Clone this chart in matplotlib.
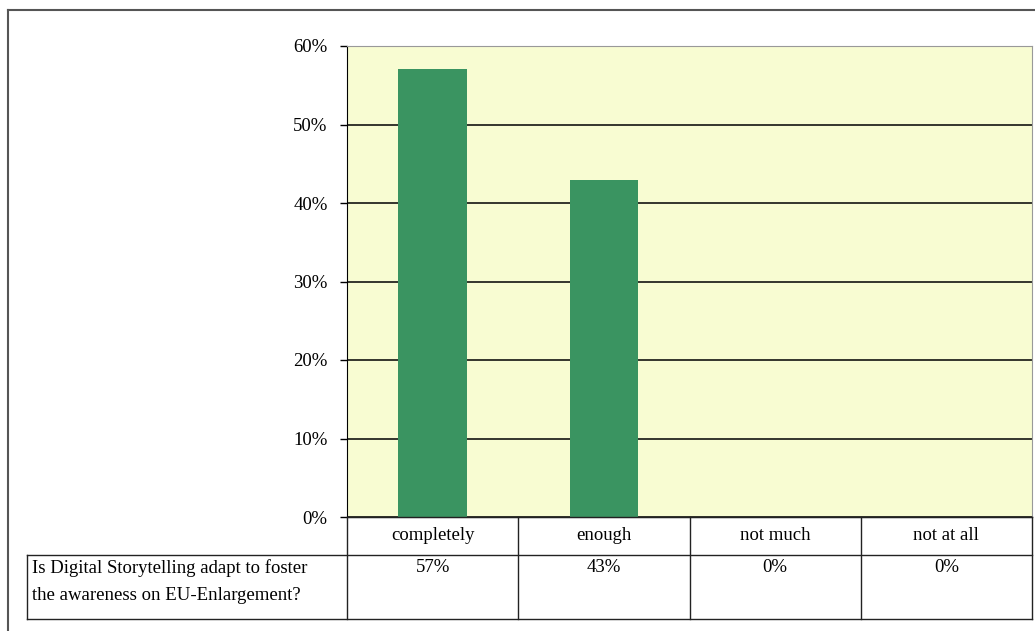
import matplotlib.pyplot as plt
from matplotlib.lines import Line2D
from matplotlib.ticker import PercentFormatter

categories = ['completely', 'enough', 'not much', 'not at all']
values = [57.1, 42.9, 0, 0]
table_labels = ['57%', '43%', '0%', '0%']
question = 'Is Digital Storytelling adapt to foster\nthe awareness on EU-Enlargement?'
yticks = [0, 10, 20, 30, 40, 50, 60]

W, H = 1035, 631
plt.rcParams['font.family'] = ['Liberation Serif', 'DejaVu Serif']

fig = plt.figure(figsize=(W / 100, H / 100), dpi=100)

# pixel helpers (top-left origin) -> figure coords
def fx(px):
    return px / W

def fy(py):
    return 1 - py / H

ax_l, ax_r, ax_t, ax_b = 347, 1032, 46, 517
ax = fig.add_axes([fx(ax_l), fy(ax_b), fx(ax_r) - fx(ax_l), fy(ax_t) - fy(ax_b)])
ax.set_facecolor('#f8fcd2')

x = range(len(categories))
ax.bar(x, values, width=0.4, color='#3a9461', zorder=3)
ax.set_xlim(-0.5, len(categories) - 0.5)
ax.set_ylim(0, 60)
ax.set_yticks(yticks)
ax.yaxis.set_major_formatter(PercentFormatter(decimals=0))
ax.set_xticks([])
ax.grid(axis='y', color='black', linewidth=1.1, zorder=1)
ax.tick_params(axis='y', length=5, width=1, labelsize=13.5, pad=9, colors='black')
for s in ['top', 'right']:
    ax.spines[s].set_color('#999999')
ax.spines['left'].set_color('black')
ax.spines['bottom'].set_color('black')

# outer frame (left and top)
fig.add_artist(Line2D([fx(8), fx(8)], [fy(10), 0], color='#555555', lw=1.5))
fig.add_artist(Line2D([fx(8), 1], [fy(10), fy(10)], color='#555555', lw=1.5))

# data table below the plot
col_w = (ax_r - ax_l) / len(categories)
row1_t, row1_b, row2_b = 517, 555, 619
lab_l = 27
lc = '#222222'

def hline(x0, x1, y):
    fig.add_artist(Line2D([fx(x0), fx(x1)], [fy(y), fy(y)], color=lc, lw=1))

def vline(xp, y0, y1):
    fig.add_artist(Line2D([fx(xp), fx(xp)], [fy(y0), fy(y1)], color=lc, lw=1))

hline(ax_l, ax_r, row1_t)
hline(lab_l, ax_r, row1_b)
hline(lab_l, ax_r, row2_b)
vline(lab_l, row1_b, row2_b)
for i in range(len(categories) + 1):
    vline(ax_l + i * col_w, row1_t, row2_b)

for i, (cat, lab) in enumerate(zip(categories, table_labels)):
    cx = ax_l + (i + 0.5) * col_w
    fig.text(fx(cx), fy((row1_t + row1_b) / 2), cat, ha='center', va='center', fontsize=13.5)
    fig.text(fx(cx), fy(row1_b + 13), lab, ha='center', va='center', fontsize=13.5)

fig.text(fx(lab_l + 5), fy(row1_b + 4), question, ha='left', va='top', fontsize=13.5,
         linespacing=1.75)

fig.savefig('out.png', dpi=100, facecolor='white')
